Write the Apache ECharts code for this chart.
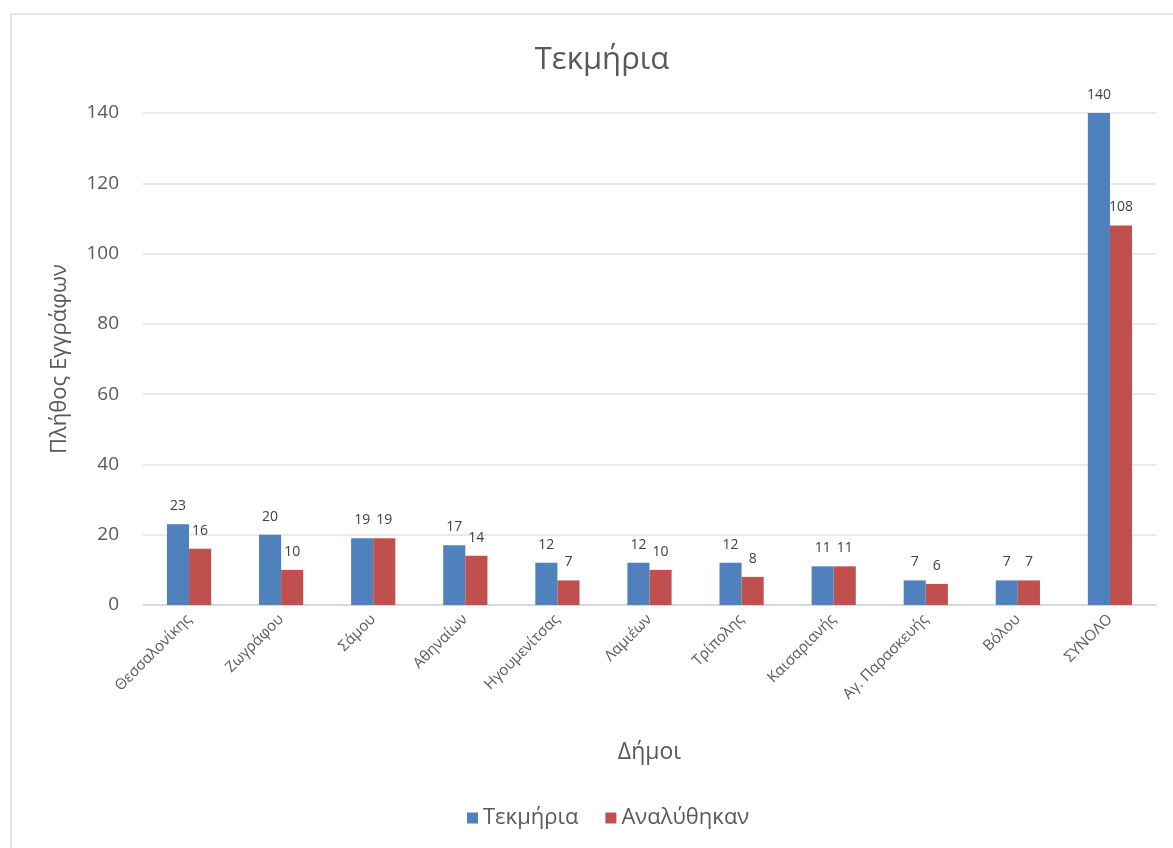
<!DOCTYPE html>
<html>
<head>
<meta charset="utf-8">
<script src="https://cdn.jsdelivr.net/npm/echarts@6/dist/echarts.min.js"></script>
<style>
html,body{margin:0;padding:0;background:#fff;}
#frame{position:absolute;left:10px;top:13px;width:1170px;height:850px;border:2px solid #e3e3e3;box-sizing:border-box;}
#chart{position:absolute;left:0;top:0;width:1173px;height:848px;}
</style>
</head>
<body>
<div id="frame"></div>
<div id="chart"></div>
<script>
const categories = ['Θεσσαλονίκης','Ζωγράφου','Σάμου','Αθηναίων','Ηγουμενίτσας','Λαμιέων','Τρίπολης','Καισαριανής','Αγ. Παρασκευής','Βόλου','ΣΥΝΟΛΟ'];
const tekmiria = [23,20,19,17,12,12,12,11,7,7,140];
const analythikan = [16,10,19,14,7,10,8,11,6,7,108];
const yTicks = [0,20,40,60,80,100,120,140];

const font = '"Open Sans", "Noto Sans", sans-serif';
const chart = echarts.init(document.getElementById('chart'), null, {renderer:'canvas'});
const labelStyle = {show:true, position:'top', color:'#404040', fontSize:14, fontFamily:font, distance:11};
chart.setOption({
  animation:false,
  backgroundColor:'transparent',
  title:{text:'Τεκμήρια', left:597, textAlign:'center', top:40,
    textStyle:{fontSize:31, fontWeight:'normal', color:'#595959', fontFamily:font}},
  legend:{bottom:14, left:462, itemWidth:11, itemHeight:11, itemGap:27, icon:'rect',
    textStyle:{fontSize:22, color:'#595959', fontFamily:font}, data:['Τεκμήρια','Αναλύθηκαν']},
  grid:{left:143, right:17, top:113, bottom:243},
  xAxis:{type:'category', data:categories,
    name:'Δήμοι', nameLocation:'middle', nameGap:136,
    nameTextStyle:{fontSize:23, color:'#595959', fontFamily:font},
    axisLine:{lineStyle:{color:'#d9d9d9', width:2}}, axisTick:{show:false},
    axisLabel:{rotate:45, fontSize:15, color:'#595959', fontFamily:font, margin:12, interval:0}},
  yAxis:{type:'value', min:0, max:140, interval:20,
    name:'Πλήθος Εγγράφων', nameLocation:'middle', nameGap:72, nameRotate:90,
    nameTextStyle:{fontSize:22, color:'#595959', fontFamily:font},
    axisLine:{show:false}, axisTick:{show:false},
    axisLabel:{fontSize:19, color:'#595959', fontFamily:font, margin:24,
      formatter:v=>yTicks.includes(v)?String(v):''},
    splitLine:{lineStyle:{color:'#e3e3e3', width:1.5}}},
  series:[
    {name:'Τεκμήρια', type:'bar', data:tekmiria, barGap:'0%', barCategoryGap:'52%',
      itemStyle:{color:'#4F81BD'}, label:labelStyle},
    {name:'Αναλύθηκαν', type:'bar', data:analythikan,
      itemStyle:{color:'#C0504D'}, label:labelStyle}
  ]
});
</script>
</body>
</html>
